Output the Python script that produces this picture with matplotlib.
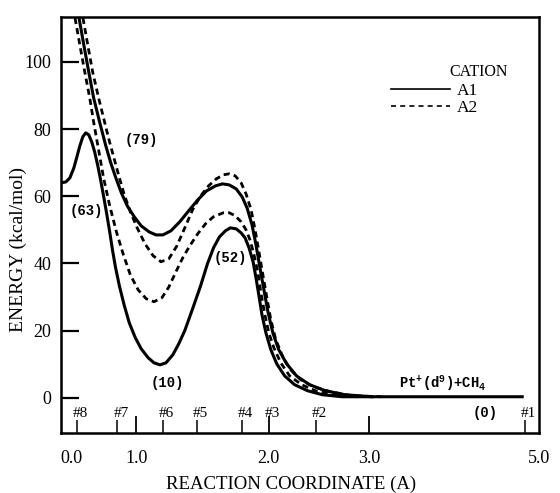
import numpy as np
import matplotlib
matplotlib.use("Agg")
import matplotlib.pyplot as plt

plt.rcParams["font.family"] = ["Liberation Serif", "DejaVu Serif"]
plt.rcParams["mathtext.fontset"] = "custom"
plt.rcParams["mathtext.rm"] = "Liberation Mono:bold"
plt.rcParams["mathtext.default"] = "rm"

# ---------- data (reaction coordinate, kcal/mol) ----------
a1_low_r = [-0.169, -0.092, -0.031, 0.031, 0.077, 0.123, 0.169, 0.215, 0.262, 0.308,
            0.354, 0.400, 0.446, 0.492, 0.538, 0.585, 0.631, 0.677, 0.738, 0.815,
            0.892, 0.985, 1.037, 1.090, 1.134, 1.179, 1.224, 1.276, 1.321, 1.366,
            1.425, 1.485, 1.537, 1.582, 1.627, 1.672, 1.709, 1.754, 1.791, 1.821,
            1.851, 1.881, 1.903, 1.925, 1.948, 1.978, 2.020, 2.079, 2.158, 2.257,
            2.386, 2.535, 2.733, 3.326, 4.802]
a1_low_e = [64.0, 64.3, 65.5, 68.5, 71.7, 75.0, 77.7, 78.9, 78.3, 76.2,
            73.2, 69.3, 64.9, 60.1, 55.1, 49.7, 44.0, 38.9, 33.3, 27.4,
            22.3, 17.9, 14.6, 11.9, 10.4, 9.8, 10.4, 12.8, 16.1, 20.0,
            26.5, 33.3, 39.9, 44.6, 47.9, 49.7, 50.6, 50.3, 49.1, 47.6,
            44.6, 40.5, 35.7, 30.4, 24.7, 19.3, 14.3, 10.1, 6.5, 3.9,
            2.1, 0.9, 0.3, 0.3, 0.3]

a1_up_r = [0.077, 0.108, 0.185, 0.262, 0.338, 0.431, 0.523, 0.600, 0.677, 0.769,
           0.862, 0.969, 1.037, 1.097, 1.149, 1.201, 1.261, 1.328, 1.396, 1.463,
           1.530, 1.597, 1.649, 1.701, 1.754, 1.799, 1.836, 1.873, 1.903, 1.933,
           1.963, 1.993, 2.040, 2.099, 2.178, 2.277, 2.406, 2.564, 2.762, 3.035]
a1_up_e = [116.1, 113.4, 105.1, 97.0, 89.3, 82.1, 75.3, 70.2, 65.8, 61.0,
           57.1, 53.9, 51.2, 49.4, 48.5, 48.5, 49.7, 52.4, 55.7, 58.9,
           61.6, 63.1, 63.7, 63.4, 62.2, 59.8, 56.5, 51.5, 45.5, 38.7,
           32.1, 25.6, 19.3, 14.3, 10.1, 6.5, 3.9, 2.1, 0.9, 0.3]

a2_up_r = [0.138, 0.169, 0.246, 0.323, 0.415, 0.508, 0.585, 0.662, 0.738, 0.815,
           0.908, 1.007, 1.067, 1.127, 1.187, 1.246, 1.306, 1.366, 1.425, 1.485,
           1.545, 1.604, 1.657, 1.701, 1.746, 1.791, 1.828, 1.866, 1.896, 1.925,
           1.955, 1.985, 2.020, 2.069, 2.139, 2.218, 2.317, 2.446, 2.614, 2.832, 3.151]
a2_up_e = [116.1, 113.4, 105.1, 97.0, 89.3, 82.1, 76.2, 70.8, 65.5, 60.4,
           55.4, 50.6, 45.8, 42.3, 40.5, 41.4, 45.2, 50.6, 56.0, 60.1,
           63.1, 65.2, 66.4, 66.7, 66.1, 64.0, 60.7, 56.0, 50.0, 43.5,
           36.6, 29.8, 23.2, 17.3, 12.2, 8.3, 5.4, 3.3, 1.8, 0.6, 0.3]

a2_low_r = [0.015, 0.046, 0.123, 0.200, 0.277, 0.338, 0.415, 0.492, 0.585, 0.692,
            0.800, 0.908, 1.015, 1.075, 1.134, 1.194, 1.246, 1.299, 1.351, 1.403,
            1.463, 1.522, 1.582, 1.657, 1.701, 1.746, 1.791, 1.828, 1.858, 1.888,
            1.918, 1.940, 1.970, 2.000, 2.050, 2.119, 2.208, 2.327, 2.465, 2.644, 2.881]
a2_low_e = [116.1, 113.4, 105.1, 97.0, 89.3, 82.1, 73.8, 65.5, 57.4, 49.4,
            42.6, 36.6, 32.1, 29.5, 28.6, 29.8, 33.0, 37.5, 41.7, 45.2,
            48.8, 51.8, 53.9, 55.1, 55.1, 54.2, 52.4, 50.0, 47.0, 42.6,
            37.2, 31.3, 24.7, 19.3, 14.9, 10.4, 6.5, 3.9, 2.1, 0.9, 0.3]

x_ticks = [0.0, 1.0, 2.0, 3.0, 5.0]
x_ticklabels = ["0.0", "1.0", "2.0", "3.0", "5.0"]
y_ticks = [0, 20, 40, 60, 80, 100]

point_labels = ["#8", "#7", "#6", "#5", "#4", "#3", "#2", "#1"]
point_r = [0.077, 0.708, 1.201, 1.455, 1.799, 2.0, 2.475, 4.837]

energy_notes = ["(79)", "(63)", "(10)", "(52)", "(0)"]
note_r = [1.037, 0.231, 1.231, 1.709, 4.372]
note_e = [76.8, 55.7, 4.5, 41.7, -4.5]

# hand-drawn reaction coordinate axis: piecewise linear
R_ANCHOR = [-100.0, 0.0, 1.0, 2.0, 3.0, 5.0, 100.0]
P_ANCHOR = [72 - 6500.0, 72.0, 137.0, 271.0, 372.0, 544.0, 544.0 + 95 * 86.0]


def fwd(r):
    return np.interp(np.asarray(r, dtype=float), R_ANCHOR, P_ANCHOR)


def inv(p):
    return np.interp(np.asarray(p, dtype=float), P_ANCHOR, R_ANCHOR)


fig = plt.figure(figsize=(5.6, 4.93), dpi=100)
ax = fig.add_axes([0.109, 0.1217, 0.8536, 0.8438])
ax.set_xscale("function", functions=(fwd, inv))
ax.set_xlim(-0.169, 4.942)
ax.set_ylim(-10.5, 113.4)

lw = 2.2
dash = (0, (2.2, 1.5))
l1, = ax.plot(a1_low_r, a1_low_e, color="black", lw=lw, label="A1")
ax.plot(a1_up_r, a1_up_e, color="black", lw=lw)
l2, = ax.plot(a2_up_r, a2_up_e, color="black", lw=2.0, ls=dash, label="A2")
ax.plot(a2_low_r, a2_low_e, color="black", lw=2.0, ls=dash)

# axis styling
for s in ax.spines.values():
    s.set_linewidth(1.8)

ax.set_xticks(x_ticks)
ax.set_xticklabels(x_ticklabels)
ax.set_xticks(point_r, minor=True)
ax.tick_params(axis="x", which="major", direction="in", length=12, width=1.3,
               pad=12, labelsize=13)
ax.tick_params(axis="x", which="minor", direction="in", length=9.5, width=1.1)
for t in (ax.xaxis.get_major_ticks()[0], ax.xaxis.get_major_ticks()[-1]):
    t.tick1line.set_visible(False)

ax.set_yticks(y_ticks)
ax.tick_params(axis="y", direction="in", length=13, width=1.6, pad=7, labelsize=13)

for lab, r in zip(point_labels, point_r):
    ax.annotate(lab, xy=(r, 0), xycoords=ax.get_xaxis_transform(),
                xytext=(-3, 9.5), textcoords="offset points",
                ha="left", va="bottom", fontsize=11)

for lab, r, e in zip(energy_notes, note_r, note_e):
    ax.text(r, e, lab, ha="center", va="center", fontsize=10,
            family="Liberation Mono", fontweight="bold")

ax.text(3.872, 4.4, r"Pt$^{+}$(d$^{9}$)+CH$_{4}$", ha="center", va="center",
        fontsize=10, family="Liberation Mono", fontweight="bold")

ax.set_xlabel("REACTION COORDINATE (A)", fontsize=13.5)
ax.xaxis.set_label_coords(0.481, -0.102)
ax.set_ylabel("ENERGY (kcal/mol)", fontsize=14)
ax.yaxis.set_label_coords(-0.072, 0.44)

# legend
ax.text(0.874, 0.868, "CATION", transform=ax.transAxes, ha="center", va="center",
        fontsize=11.5)
leg = ax.legend(handles=[l1, l2], loc="upper right", bbox_to_anchor=(0.872, 0.842),
                frameon=False, fontsize=12.5, handlelength=3.4, handletextpad=0.4,
                labelspacing=0.05, borderpad=0, borderaxespad=0)
for ln in leg.get_lines():
    ln.set_linewidth(1.2)
leg.get_lines()[1].set_linestyle((0, (3, 2.5)))

fig.savefig("out.png", dpi=100)
